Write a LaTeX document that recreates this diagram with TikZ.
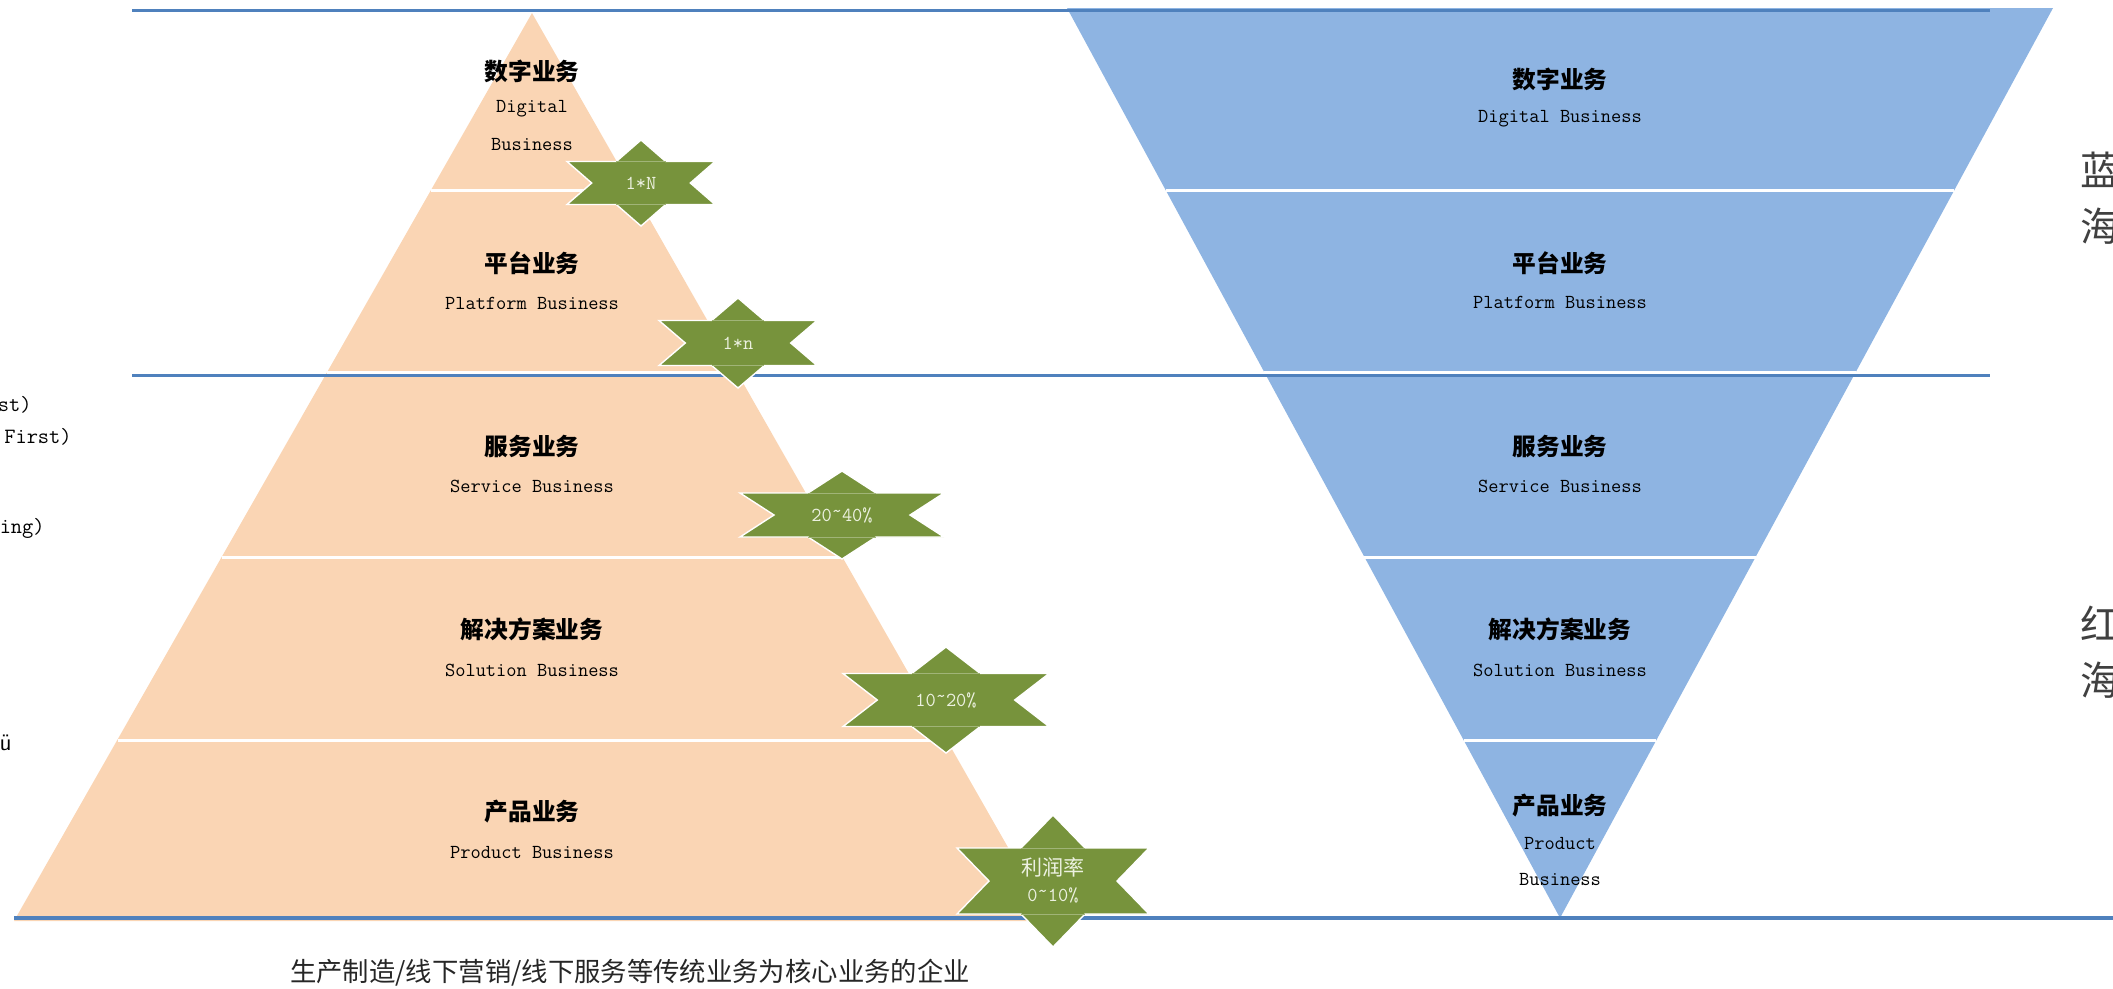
\documentclass[tikz,border=0pt]{standalone}
\usepackage{fontspec}
\newfontfamily\cjk{Noto Sans CJK SC}
\usepackage{tikz}
\definecolor{peach}{RGB}{250,213,180}
\definecolor{skyblue}{RGB}{142,180,226}
\definecolor{lineblue}{RGB}{79,129,189}
\definecolor{olivegreen}{RGB}{119,147,60}
\definecolor{starwhite}{RGB}{236,241,224}
\definecolor{seagray}{RGB}{64,64,64}
\newcommand{\hitilde}{\raisebox{0.45ex}{\textasciitilde}}
\tikzset{
  bandtitle/.style={font=\cjk\bfseries\fontsize{13.5}{16}\selectfont},
  bandtext/.style={font=\ttfamily\fontsize{11.3}{13}\selectfont, text=black},
  sep/.style={white, line width=1.7pt},
  hline/.style={lineblue, line width=1.4pt},
  starfill/.style={fill=olivegreen, draw=white, line width=0.8pt, line join=miter},
  starline/.style={olivegreen!70!white, line width=0.4pt},
  startext/.style={text=starwhite, font=\ttfamily\fontsize{11.3}{14.7}\selectfont, align=center},
  sea/.style={font=\cjk\fontsize{22.7}{31.7}\selectfont, text=seagray, align=left, anchor=west},
  cuttext/.style={font=\ttfamily\fontsize{12.4}{14}\selectfont, anchor=east}
}
\begin{document}
\begin{tikzpicture}[scale=0.2]
  \tikzstyle{every node}+=[inner sep=0pt]
  \useasboundingbox (0,0) rectangle (211.3,-98.8);
  \clip (0,0) rectangle (211.3,-98.8);
  % pyramid
  \fill [peach] (53.2,-1.3) -- (105.0,-92.1) -- (1.4,-92.1) -- cycle;
  \draw [sep] (43.11,-19.0) -- (63.29,-19.0);
  \draw [sep] (32.74,-37.2) -- (73.66,-37.2);
  \draw [sep] (22.2,-55.7) -- (84.2,-55.7);
  \draw [sep] (11.76,-74.0) -- (94.64,-74.0);
  % inverted pyramid
  \fill [skyblue] (106.7,-0.8) -- (205.3,-0.8) -- (156.0,-91.8) -- cycle;
  \draw [sep] (116.56,-19.0) -- (195.44,-19.0);
  \draw [sep] (126.43,-37.2) -- (185.57,-37.2);
  \draw [sep] (136.4,-55.7) -- (175.6,-55.7);
  \draw [sep] (146.36,-74.0) -- (165.64,-74.0);
  % blue lines
  \draw [hline] (13.2,-1.07) -- (199.0,-1.07);
  \draw [hline] (13.2,-37.57) -- (199.0,-37.57);
  \draw [hline, line width=2.4pt] (1.4,-91.8) -- (211.3,-91.8);
  % left labels
  \node [bandtitle] (tDigL) at (53.2,-7.1) {数字业务};
  \node [bandtext] (eDigL) at (53.2,-10.9) {Digital};
  \node [bandtext] (eDigLb) at (53.2,-14.4) {Business};
  \node [bandtitle] (tPlatL) at (53.2,-26.3) {平台业务};
  \node [bandtext] (ePlatL) at (53.2,-30.3) {Platform Business};
  \node [bandtitle] (tServL) at (53.2,-44.6) {服务业务};
  \node [bandtext] (eServL) at (53.2,-48.6) {Service Business};
  \node [bandtitle] (tSolL) at (53.2,-62.9) {解决方案业务};
  \node [bandtext] (eSolL) at (53.2,-67.0) {Solution Business};
  \node [bandtitle] (tProdL) at (53.2,-81.2) {产品业务};
  \node [bandtext] (eProdL) at (53.2,-85.2) {Product Business};
  % right labels
  \node [bandtitle] (tDigR) at (156.0,-7.95) {数字业务};
  \node [bandtext] (eDigR) at (156.0,-11.9) {Digital Business};
  \node [bandtitle] (tPlatR) at (156.0,-26.3) {平台业务};
  \node [bandtext] (ePlatR) at (156.0,-30.2) {Platform Business};
  \node [bandtitle] (tServR) at (156.0,-44.6) {服务业务};
  \node [bandtext] (eServR) at (156.0,-48.6) {Service Business};
  \node [bandtitle] (tSolR) at (156.0,-62.9) {解决方案业务};
  \node [bandtext] (eSolR) at (156.0,-67.0) {Solution Business};
  \node [bandtitle] (tProdR) at (156.0,-80.6) {产品业务};
  \node [bandtext] (eProdR) at (156.0,-84.3) {Product};
  \node [bandtext] (eProdRb) at (156.0,-87.9) {Business};
  % stars
  \draw [starfill, shift={(64.1,-18.3)}] (0,4.3) -- (2.47,2.15) -- (7.4,2.15) -- (4.93,0) -- (7.4,-2.15) -- (2.47,-2.15) -- (0,-4.3) -- (-2.47,-2.15) -- (-7.4,-2.15) -- (-4.93,0) -- (-7.4,2.15) -- (-2.47,2.15) -- cycle;
  \draw [starline, shift={(64.1,-18.3)}] (-2.47,2.15) -- (2.47,2.15) (-2.47,-2.15) -- (2.47,-2.15);
  \node [startext] (star1) at (64.1,-18.3) {1*N};
  \draw [starfill, shift={(73.8,-34.3)}] (0,4.5) -- (2.63,2.25) -- (7.9,2.25) -- (5.27,0) -- (7.9,-2.25) -- (2.63,-2.25) -- (0,-4.5) -- (-2.63,-2.25) -- (-7.9,-2.25) -- (-5.27,0) -- (-7.9,2.25) -- (-2.63,2.25) -- cycle;
  \draw [starline, shift={(73.8,-34.3)}] (-2.63,2.25) -- (2.63,2.25) (-2.63,-2.25) -- (2.63,-2.25);
  \node [startext] (star2) at (73.8,-34.3) {1*n};
  \draw [starfill, shift={(84.2,-51.5)}] (0,4.4) -- (3.4,2.2) -- (10.2,2.2) -- (6.8,0) -- (10.2,-2.2) -- (3.4,-2.2) -- (0,-4.4) -- (-3.4,-2.2) -- (-10.2,-2.2) -- (-6.8,0) -- (-10.2,2.2) -- (-3.4,2.2) -- cycle;
  \draw [starline, shift={(84.2,-51.5)}] (-3.4,2.2) -- (3.4,2.2) (-3.4,-2.2) -- (3.4,-2.2);
  \node [startext] (star3) at (84.2,-51.5) {20\hitilde40\%};
  \draw [starfill, shift={(94.6,-70.0)}] (0,5.3) -- (3.43,2.65) -- (10.3,2.65) -- (6.87,0) -- (10.3,-2.65) -- (3.43,-2.65) -- (0,-5.3) -- (-3.43,-2.65) -- (-10.3,-2.65) -- (-6.87,0) -- (-10.3,2.65) -- (-3.43,2.65) -- cycle;
  \draw [starline, shift={(94.6,-70.0)}] (-3.43,2.65) -- (3.43,2.65) (-3.43,-2.65) -- (3.43,-2.65);
  \node [startext] (star4) at (94.6,-70.0) {10\hitilde20\%};
  \draw [starfill, shift={(105.3,-88.1)}] (0,6.6) -- (3.2,3.3) -- (9.6,3.3) -- (6.4,0) -- (9.6,-3.3) -- (3.2,-3.3) -- (0,-6.6) -- (-3.2,-3.3) -- (-9.6,-3.3) -- (-6.4,0) -- (-9.6,3.3) -- (-3.2,3.3) -- cycle;
  \draw [starline, shift={(105.3,-88.1)}] (-3.2,3.3) -- (3.2,3.3) (-3.2,-3.3) -- (3.2,-3.3);
  \node [startext] (star5) at (105.3,-88.0) {{\cjk\fontsize{12}{14.7}\selectfont 利润率}\\0\hitilde10\%};
  % side and bottom texts
  \node [sea] (blueSea) at (208.0,-19.8) {蓝\\海};
  \node [sea] (redSea) at (208.0,-65.25) {红\\海};
  \node [font=\cjk\fontsize{15}{18}\selectfont, text=black!85] (footer) at (63.0,-97.3) {生产制造/线下营销/线下服务等传统业务为核心业务的企业};
  \node [cuttext] (cutA) at (3.2,-40.5) {st)};
  \node [cuttext] (cutB) at (7.2,-43.7) {First)};
  \node [cuttext] (cutC) at (4.5,-52.8) {ing)};
  \node [cuttext, font=\sffamily\fontsize{13.6}{15}\selectfont] (cutD) at (1.2,-74.3) {ü};
\end{tikzpicture}
\end{document}
